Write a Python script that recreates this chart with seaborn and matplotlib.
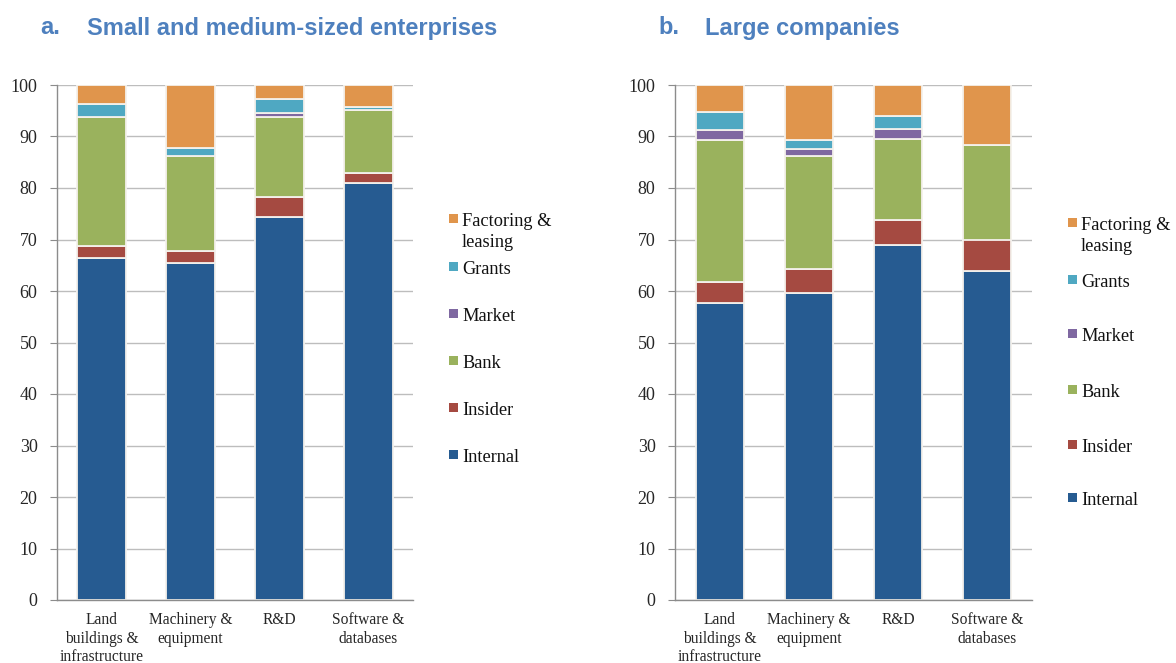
import numpy as np
import matplotlib
matplotlib.use("Agg")
import matplotlib.pyplot as plt
import seaborn as sns
from matplotlib.patches import Rectangle

# Investment categories on the x axis
categories = ["Land\nbuildings &\ninfrastructure", "Machinery &\nequipment", "R&D", "Software &\ndatabases"]

# Financing sources, stacked bottom to top
sources = ["Internal", "Insider", "Bank", "Market", "Grants", "Factoring &\nleasing"]

# a. Small and medium-sized enterprises (% of financing)
sme_internal = [66.5, 65.5, 74.3, 81.0]
sme_insider = [2.3, 2.3, 3.9, 1.9]
sme_bank = [24.9, 18.4, 15.6, 12.3]
sme_market = [0.0, 0.0, 0.8, 0.0]
sme_grants = [2.7, 1.5, 2.7, 0.6]
sme_factoring = [3.6, 12.3, 2.7, 4.2]

# b. Large companies (% of financing)
large_internal = [57.6, 59.6, 69.0, 63.9]
large_insider = [4.2, 4.6, 4.7, 6.1]
large_bank = [27.5, 22.1, 15.8, 18.4]
large_market = [1.9, 1.3, 1.9, 0.0]
large_grants = [3.5, 1.8, 2.5, 0.0]
large_factoring = [5.3, 10.6, 6.1, 11.6]

yticks = list(range(0, 101, 10))

colors = ["#265B91", "#A54A41", "#9AB25D", "#7F68A1", "#4FA8C2", "#E0954C"]

sns.set_style("white")
plt.rcParams["font.family"] = ["Liberation Serif", "DejaVu Serif"]

W, H = 1176, 663
fig = plt.figure(figsize=(W / 100, H / 100), dpi=100)


def px(x, y):
    return x / W, 1 - y / H


def draw_panel(left, right, series, title_letter, title, legend_x, legend_tops):
    x0, _ = px(left, 0)
    x1, _ = px(right, 0)
    _, yb = px(0, 600)
    _, yt = px(0, 85)
    ax = fig.add_axes([x0, yb, x1 - x0, yt - yb])
    bottom = np.zeros(len(categories))
    for vals, col in zip(series, colors):
        sns.barplot(x=categories, y=vals, bottom=bottom, color=col, saturation=1,
                    width=0.54, edgecolor="#F4F1EC", linewidth=1.3,
                    errorbar=None, ax=ax, order=categories)
        bottom = bottom + np.asarray(vals)

    ax.set_xlim(-0.5, len(categories) - 0.5)
    ax.set_ylim(0, 100)
    ax.set_yticks(yticks)
    ax.set_yticklabels([str(v) for v in yticks], fontsize=13)
    ax.set_xticks(range(len(categories)))
    ax.set_xticklabels(categories, fontsize=11.2, linespacing=1.2)
    ax.set_xticks(np.arange(-0.5, len(categories), 1.0), minor=True)
    ax.tick_params(axis="x", which="major", length=0, pad=9)
    ax.tick_params(axis="x", which="minor", length=6, color="#8C8C8C", direction="out")
    ax.tick_params(axis="y", which="major", length=5, color="#8C8C8C", direction="out",
                   pad=9, left=True)
    ax.set_xlabel("")
    ax.set_ylabel("")
    ax.yaxis.grid(True, color="#BDBDBD", linewidth=1.0)
    ax.set_axisbelow(True)
    for s in ["top", "right"]:
        ax.spines[s].set_visible(False)
    for s in ["left", "bottom"]:
        ax.spines[s].set_color("#8C8C8C")
        ax.spines[s].set_linewidth(1.0)

    # Panel heading
    tx, ty = px(left - 17, 28)
    fig.text(tx, ty, title_letter, fontsize=17, fontweight="bold", color="#4E80BE",
             family="Liberation Sans", va="center", ha="left")
    tx2, _ = px(left + 30, 28)
    fig.text(tx2, ty, title, fontsize=17, fontweight="bold", color="#4E80BE",
             family="Liberation Sans", va="center", ha="left")

    # Legend, top entry first
    for name, col, top in zip(sources[::-1], colors[::-1], legend_tops):
        mx, my = px(legend_x, top + 9)
        fig.add_artist(Rectangle((mx, my), 9 / W, 9 / H, transform=fig.transFigure,
                                 facecolor=col, edgecolor="none"))
        lx, ly = px(legend_x + 13, top - 1)
        fig.text(lx, ly, name, fontsize=13.2, va="top", ha="left", linespacing=1.3,
                 color="#111111")
    return ax


draw_panel(57, 413,
           [sme_internal, sme_insider, sme_bank, sme_market, sme_grants, sme_factoring],
           "a.", "Small and medium-sized enterprises",
           449, [214, 262, 309, 356, 403, 450])
draw_panel(675, 1032,
           [large_internal, large_insider, large_bank, large_market, large_grants, large_factoring],
           "b.", "Large companies",
           1068, [218, 275, 329, 385, 440, 493])

fig.savefig("out.png", dpi=100)
